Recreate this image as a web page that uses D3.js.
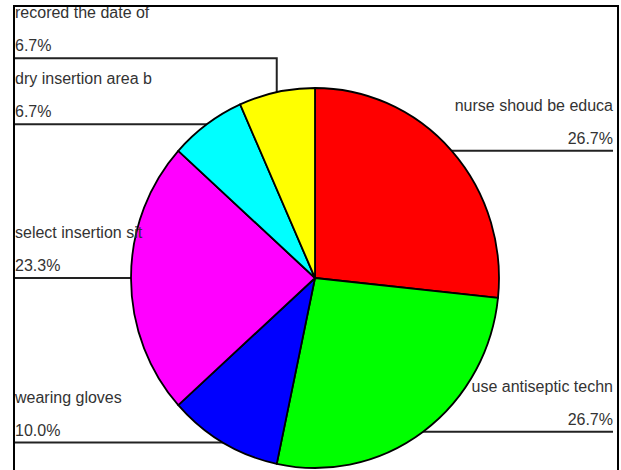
<!DOCTYPE html>
<html>
<head>
<meta charset="utf-8">
<script src="https://cdn.jsdelivr.net/npm/d3@7"></script>
<style>
  body { margin: 0; background: #fff; }
  text { font-family: "Liberation Sans", Arial, sans-serif; font-size: 16px; fill: #333; }
</style>
</head>
<body>
<div id="chart"></div>
<script>
// data (counts out of 30)
const categories = ["nurse shoud be educa", "use antiseptic techn", "wearing gloves",
    "select insertion sit", "dry insertion area b", "recored the date of"];
const counts = [8, 8, 3, 7, 2, 2];
const colors = ["#ff0000", "#00ff00", "#0000ff", "#ff00ff", "#00ffff", "#ffff00"];

const W = 621, H = 470;
const frame = {left: 14, top: 6, right: 618};
const cx = 315, cy = 278, rx = 184, ry = 190;

const svg = d3.select("#chart").append("svg").attr("width", W).attr("height", H);

svg.append("defs").append("clipPath").attr("id", "inside")
    .append("rect").attr("x", frame.left + 1).attr("y", frame.top + 1)
    .attr("width", frame.right - frame.left - 2).attr("height", H);

const total = d3.sum(counts);
const pct = d3.format(".1%");
const data = categories.map((c, i) => ({name: c, value: counts[i], color: colors[i]}));

const pie = d3.pie().value(d => d.value).sort(null);
const arcs = pie(data);
const arc = d3.arc().innerRadius(0).outerRadius(rx);

// anchor point on the (slightly tall) pie outline at each slice's middle angle
arcs.forEach(a => {
    const m = (a.startAngle + a.endAngle) / 2;
    a.ax = cx + rx * Math.sin(m);
    a.ay = cy - ry * Math.cos(m);
    a.right = Math.sin(m) > 0;
});

// left labels: push up so they don't overlap
const gap = 66;
const left = arcs.filter(a => !a.right).sort((a, b) => b.ay - a.ay);
let prev = Infinity;
left.forEach(a => { a.ly = Math.min(a.ay, prev - gap); prev = a.ly; });
arcs.filter(a => a.right).forEach(a => { a.ly = a.ay; });

svg.append("g").attr("clip-path", "url(#inside)")
    .selectAll("path").data(arcs).enter().append("path")
    .attr("fill", "none").attr("stroke", "#222").attr("stroke-width", 2)
    .attr("d", d => d.right
        ? `M${d.ax},${d.ay}V${d.ly}H${frame.right - 5}`
        : `M${frame.left + 1},${d.ly}H${d.ax}V${d.ay}`);

svg.append("g")
    .attr("transform", `translate(${cx},${cy}) scale(1,${ry / rx})`)
    .selectAll("path").data(arcs).enter().append("path")
    .attr("d", arc)
    .attr("fill", d => d.data.color)
    .attr("stroke", "#000").attr("stroke-width", 1.8)
    .attr("stroke-linejoin", "round");

// texts go on top of the pie
const labels = svg.append("g").attr("clip-path", "url(#inside)");

labels.selectAll("text.name").data(arcs).enter().append("text")
    .attr("class", "name")
    .attr("x", d => d.right ? frame.right - 5 : frame.left + 1)
    .attr("y", d => d.ly - 40)
    .attr("text-anchor", d => d.right ? "end" : "start")
    .text(d => d.data.name);

labels.selectAll("text.pct").data(arcs).enter().append("text")
    .attr("class", "pct")
    .attr("x", d => d.right ? frame.right - 5 : frame.left + 1)
    .attr("y", d => d.ly - 7)
    .attr("text-anchor", d => d.right ? "end" : "start")
    .text(d => pct(d.data.value / total));

// frame, open at the bottom
svg.append("path")
    .attr("fill", "none").attr("stroke", "#000").attr("stroke-width", 2)
    .attr("d", `M${frame.left},${H}V${frame.top}H${frame.right}V${H}`);
</script>
</body>
</html>
